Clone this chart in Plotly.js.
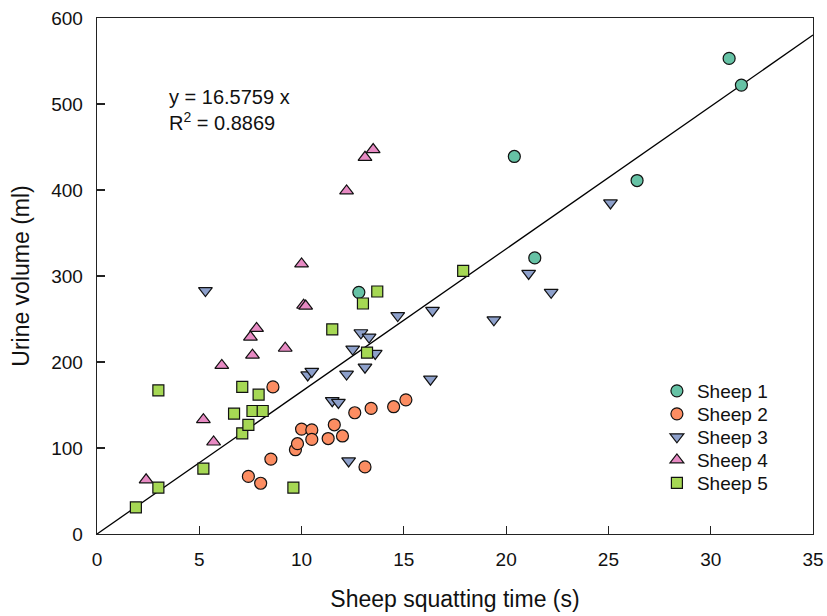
<!DOCTYPE html>
<html>
<head>
<meta charset="utf-8">
<script src="https://cdn.plot.ly/plotly-3.0.1.min.js"></script>
<style>html,body{margin:0;padding:0;background:#fff;}#chart{width:827px;height:616px;}</style>
</head>
<body>
<div id="chart"></div>
<script>
// Sheep squatting time (s) and urine volume (ml)
const sheep1_x = [30.9, 31.5, 20.4, 26.4, 21.4, 12.8];
const sheep1_y = [553, 522, 439, 411, 321, 281];

const sheep2_x = [7.4, 8.0, 8.5, 8.6, 9.7, 9.8, 10.0, 10.5, 10.5, 11.3, 11.6, 12.0, 12.6, 13.4, 14.5, 15.1, 13.1];
const sheep2_y = [67, 59, 87, 171, 98, 105, 122, 121, 110, 111, 127, 114, 141, 146, 148, 156, 78];

const sheep3_x = [5.3, 10.3, 10.5, 11.5, 11.8, 12.2, 12.3, 12.5, 12.9, 13.3, 13.6, 13.1, 14.7, 16.4, 16.3, 19.4, 21.1, 22.2, 25.1];
const sheep3_y = [283, 185, 189, 155, 153, 186, 85, 215, 234, 229, 210, 194, 254, 260, 180, 249, 303, 281, 385];

const sheep4_x = [2.4, 5.2, 5.7, 6.1, 7.5, 7.6, 7.8, 9.2, 10.0, 10.1, 10.2, 12.2, 13.1, 13.5];
const sheep4_y = [63, 133, 107, 196, 229, 208, 239, 216, 314, 266, 265, 399, 438, 447];

const sheep5_x = [1.9, 3.0, 3.0, 5.2, 6.7, 7.1, 7.1, 7.4, 7.6, 7.9, 8.1, 9.6, 11.5, 13.0, 13.2, 13.7, 17.9];
const sheep5_y = [31, 54, 167, 76, 140, 117, 171, 127, 143, 162, 143, 54, 238, 268, 211, 282, 306];

const seriesNames = ["Sheep 1", "Sheep 2", "Sheep 3", "Sheep 4", "Sheep 5"];
const seriesColors = ["#66c2a5", "#fc8d62", "#8da0cb", "#e78ac3", "#a6d854"];
const seriesSymbols = ["circle", "circle", "triangle-down", "triangle-up", "square"];

const fitSlope = 16.5759;
const fitR2 = 0.8869;
const fitX = [0, 35];

const xTicks = [0, 5, 10, 15, 20, 25, 30, 35];
const yTicks = [0, 100, 200, 300, 400, 500, 600];

const xs = [sheep1_x, sheep2_x, sheep3_x, sheep4_x, sheep5_x];
const ys = [sheep1_y, sheep2_y, sheep3_y, sheep4_y, sheep5_y];

const FONT = "Liberation Sans, Arial, sans-serif";

const traces = [{
  x: fitX,
  y: fitX.map(v => v * fitSlope),
  mode: "lines",
  line: {color: "#000", width: 1.3},
  showlegend: false,
  hoverinfo: "skip"
}];

const legendIds = ["legend", "legend2", "legend3", "legend4", "legend5"];

for (let i = 0; i < 5; i++) {
  traces.push({
    x: xs[i],
    y: ys[i],
    name: seriesNames[i],
    legend: legendIds[i],
    mode: "markers",
    type: "scatter",
    marker: {
      color: seriesColors[i],
      symbol: seriesSymbols[i],
      size: seriesSymbols[i] === "square" ? 11 : 12,
      line: {color: "#111", width: 1.2}
    }
  });
}

const layout = {
  width: 827,
  height: 616,
  margin: {l: 97, r: 14, t: 18, b: 82},
  paper_bgcolor: "#fff",
  plot_bgcolor: "#fff",
  font: {family: FONT, color: "#111", size: 19},
  showlegend: true,
  xaxis: {
    range: [0, 35],
    tickvals: xTicks,
    ticktext: xTicks.map(String),
    ticks: "inside",
    ticklen: 8,
    tickwidth: 1.2,
    tickcolor: "#222",
    showline: true,
    linecolor: "#222",
    linewidth: 1.3,
    mirror: true,
    showgrid: false,
    zeroline: false,
    tickfont: {size: 19},
    ticklabelstandoff: 8,
    title: {text: "Sheep squatting time (s)", font: {size: 23}, standoff: 21}
  },
  yaxis: {
    range: [0, 600],
    tickvals: yTicks,
    ticktext: yTicks.map(String),
    ticks: "inside",
    ticklen: 8,
    tickwidth: 1.2,
    tickcolor: "#222",
    showline: true,
    linecolor: "#222",
    linewidth: 1.3,
    mirror: true,
    showgrid: false,
    zeroline: false,
    tickfont: {size: 19},
    ticklabelstandoff: 9,
    title: {text: "Urine volume (ml)", font: {size: 23}, standoff: 15}
  },
  annotations: [{
    xref: "x", yref: "y",
    x: 3.4, y: 523,
    xanchor: "left", yanchor: "top",
    align: "left",
    showarrow: false,
    text: "y = " + fitSlope + " x<br>R<sup>2</sup> = " + fitR2,
    font: {family: FONT, size: 20, color: "#111"}
  }]
};

const legendTops = [0.314, 0.2694, 0.2248, 0.1802, 0.1357];
legendIds.forEach((id, i) => {
  layout[id] = {
    x: 0.782, y: legendTops[i], xanchor: "left", yanchor: "top",
    bgcolor: "rgba(0,0,0,0)",
    font: {family: FONT, size: 19, color: "#111"},
    itemsizing: "trace"
  };
});

Plotly.newPlot("chart", traces, layout, {displayModeBar: false, staticPlot: true});
</script>
</body>
</html>
